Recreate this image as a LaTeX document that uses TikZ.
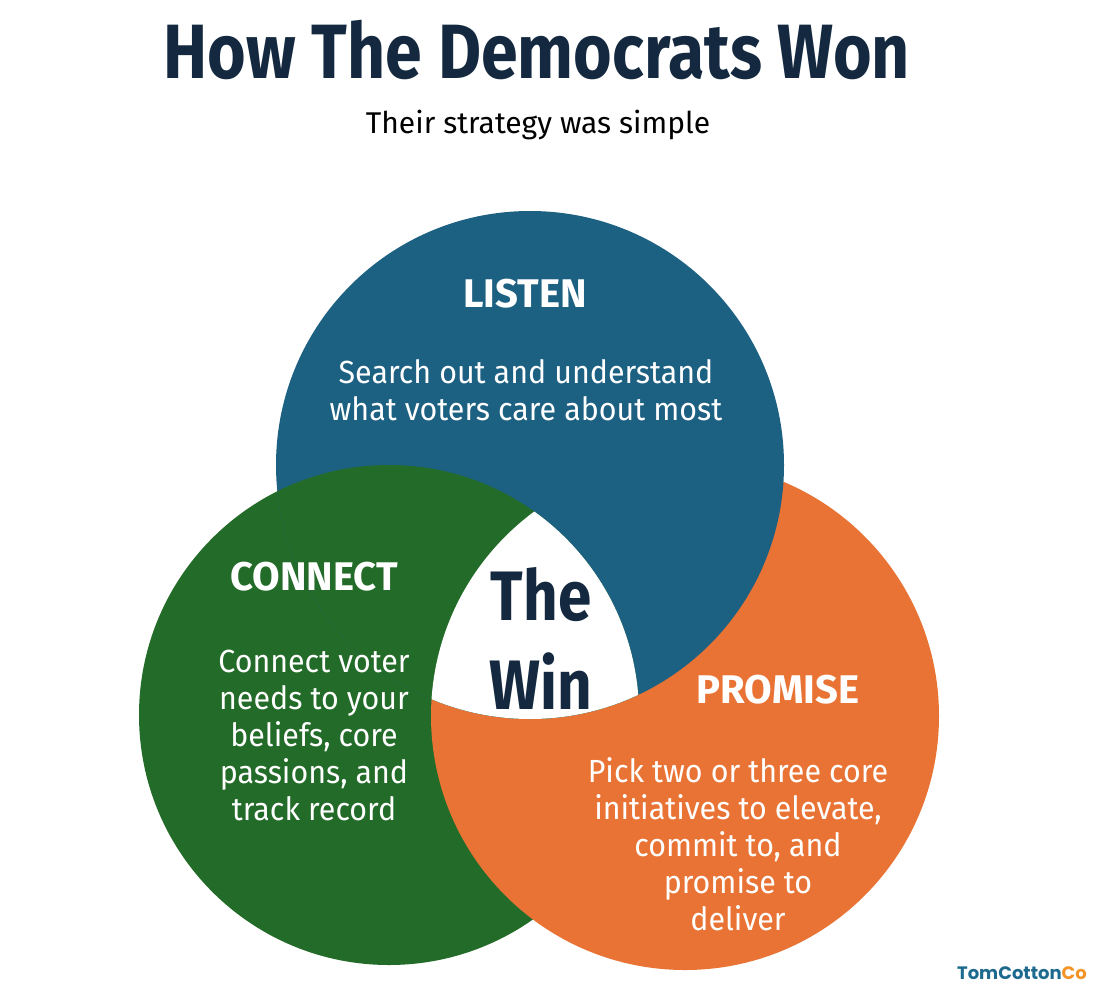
\documentclass[tikz,border=0pt]{standalone}
\usepackage{fontspec}
\setmainfont{Fira Sans}
\newfontfamily\narrowfont[FakeStretch=0.86]{Fira Sans}
\newfontfamily\blurbfont[FakeStretch=0.95]{Fira Sans}
\newfontfamily\logofont{Poppins}
\definecolor{listenblue}{HTML}{1C6082}
\definecolor{connectgreen}{HTML}{236B28}
\definecolor{promiseorange}{HTML}{E87334}
\definecolor{titlenavy}{HTML}{14293F}
\definecolor{logoblue}{HTML}{1D6A8E}
\definecolor{logoorange}{HTML}{F29426}

\begin{document}
\begin{tikzpicture}[x=0.5pt,y=-0.5pt,
    every node/.style={inner sep=0pt},
    heading/.style={text=white,anchor=base,font=\bfseries\fontsize{20}{24}\selectfont},
    blurb/.style={text=white,anchor=base,align=center,font=\blurbfont\fontsize{16}{18.5}\selectfont}]
\useasboundingbox (0,0) rectangle (1109,996);
\coordinate (listenc) at (530,465);
\coordinate (connectc) at (389,715);
\coordinate (promisec) at (685,716);
\fill[connectgreen] (connectc) circle[radius=125pt];
\fill[promiseorange] (promisec) circle[radius=127pt];
\fill[listenblue] (listenc) circle[radius=127pt];
\begin{scope}
  \clip (listenc) circle[radius=127pt];
  \fill[connectgreen] (connectc) circle[radius=125pt];
  \clip (connectc) circle[radius=125pt];
  \fill[white] (promisec) circle[radius=127pt];
\end{scope}
\node[anchor=base,text=titlenavy,font=\narrowfont\bfseries\fontsize{38.5}{40}\selectfont] (title) at (537,78) {How The Democrats Won};
\node[anchor=base,font=\fontsize{15}{18}\selectfont] (subtitle) at (538,133) {Their strategy was simple};
\node[heading] (listen) at (525,307) {LISTEN};
\node[blurb] (listentext) at (526,420) {Search out and understand\\what voters care about most};
\node[heading] (connect) at (314,590) {CONNECT};
\node[blurb] (connecttext) at (314,820) {Connect voter\\needs to your\\beliefs, core\\passions, and\\track record};
\node[heading] (promise) at (778,703) {PROMISE};
\node[blurb] (promisetext) at (738,930) {Pick two or three core\\initiatives to elevate,\\commit to, and\\promise to\\deliver};
\node[anchor=base,align=center,text=titlenavy,font=\narrowfont\bfseries\fontsize{35}{44.5}\selectfont] (win) at (541,709) {The\\Win};
\node[anchor=base,font=\logofont\bfseries\fontsize{9}{10}\selectfont] (logo) at (1022,979) {\textcolor{logoblue}{TomCotton}\textcolor{logoorange}{Co}};
\end{tikzpicture}
\end{document}
